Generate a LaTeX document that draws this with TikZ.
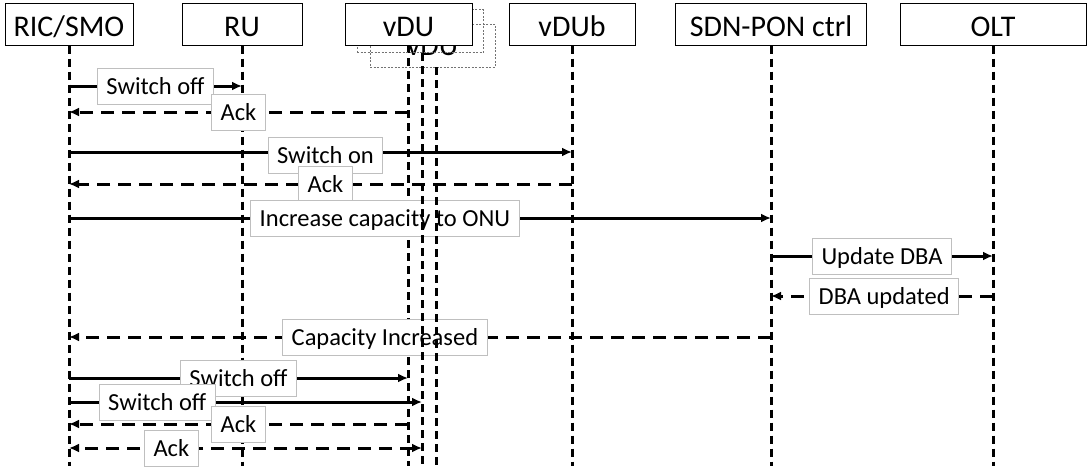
\documentclass[tikz,border=0pt]{standalone}
\usepackage{fontspec}
\setmainfont{Carlito}
\usetikzlibrary{arrows.meta}
\begin{document}
\begin{tikzpicture}[x=1pt,y=-1pt,
  actor/.style={draw=black, line width=1pt, fill=white, minimum height=42pt,
    inner sep=0pt, text height=24pt, text depth=0pt, font=\fontsize{30}{34}\selectfont},
  ghost/.style={draw=black!55, line width=0.8pt, dash pattern=on 2pt off 1.5pt,
    minimum height=43pt, inner sep=0pt, text height=19pt, text depth=0pt,
    font=\fontsize{30}{34}\selectfont},
  life/.style={line width=3pt, dash pattern=on 8pt off 5pt},
  msg/.style={line width=3pt, -{Latex[length=10pt,width=9pt]}},
  reply/.style={msg, dash pattern=on 13pt off 8pt},
  lbl/.style={draw=black!25, fill=white, solid, line width=0.8pt, inner xsep=9pt,
    inner ysep=0pt, minimum height=36pt, text height=16.5pt, text depth=0pt,
    font=\fontsize{24.5}{28}\selectfont, text=black}
]
\useasboundingbox (0,0) rectangle (1087,466);

% participants
\node[actor, minimum width=128pt] (ric) at (69,24) {RIC/SMO};
\node[actor, minimum width=120pt] (ru) at (242,24) {RU};
\node[actor, minimum width=126pt] (vdub) at (572,24) {vDUb};
\node[actor, minimum width=191pt] (sdn) at (771,24) {SDN-PON ctrl};
\node[actor, minimum width=186pt] (olt) at (993,24) {OLT};

% lifelines
\foreach \n in {ric,ru,vdub,sdn,olt}
  \draw[life] (\n.south) -- (\n.south |- 0,466);
\coordinate (vdutop) at (408,45);
\draw[life] (vdutop) -- (vdutop |- 0,466);

% stacked vDU instances
\node[ghost, minimum width=125pt] (vdu3) at (432.5,45.5) {vDU};
\node[ghost, minimum width=126pt, text opacity=0] (vdu2) at (420,31) {vDU};
\node[actor, minimum width=127pt] (vdu) at (408.5,24) {vDU};
\coordinate (v2) at (422,53);
\coordinate (v3) at (436,67);

% message rows
\coordinate (r1) at (0,86);
\coordinate (r2) at (0,112);
\coordinate (r3) at (0,152);
\coordinate (r4) at (0,184);
\coordinate (r5) at (0,218);
\coordinate (r6) at (0,256);
\coordinate (r7) at (0,296);
\coordinate (r8) at (0,337);
\coordinate (r9) at (0,378);
\coordinate (r10) at (0,402);
\coordinate (r11) at (0,424);
\coordinate (r12) at (0,448);

% messages
\draw[msg] (ric |- r1) -- node[lbl] {Switch off} (ru |- r1);
\draw[reply] (vdutop |- r2) -- node[lbl] {Ack} (ric |- r2);
\draw[msg] (ric |- r3) -- node[lbl, pos=0.51, yshift=-3pt] {Switch on} (vdub |- r3);
\draw[reply] (vdub |- r4) -- node[lbl, pos=0.49] {Ack} (ric |- r4);
\draw[msg] (ric |- r5) -- node[lbl, pos=0.45] {Increase capacity to ONU} (sdn |- r5);
\draw[msg] (sdn |- r6) -- node[lbl] {Update DBA} (olt |- r6);
\draw[reply] (olt |- r7) -- node[lbl, pos=0.49] {DBA updated} (sdn |- r7);
\draw[reply] (sdn |- r8) -- node[lbl, pos=0.55] {Capacity Increased} (ric |- r8);
\draw[msg] (ric |- r9) -- node[lbl] {Switch off} (vdutop |- r9);
\draw[msg] (ric |- r10) -- node[lbl, pos=0.25] {Switch off} (v2 |- r10);
\draw[reply] (vdutop |- r11) -- node[lbl] {Ack} (ric |- r11);
\draw[reply, {Latex[length=10pt,width=9pt]}-{Latex[length=10pt,width=9pt]}]
  (v2 |- r12) -- node[lbl, pos=0.71] {Ack} (ric |- r12);

% lifelines of the extra vDU instances
\draw[life] (v2) -- (v2 |- 0,466);
\draw[life] (v3) -- (v3 |- 0,466);
\end{tikzpicture}
\end{document}
